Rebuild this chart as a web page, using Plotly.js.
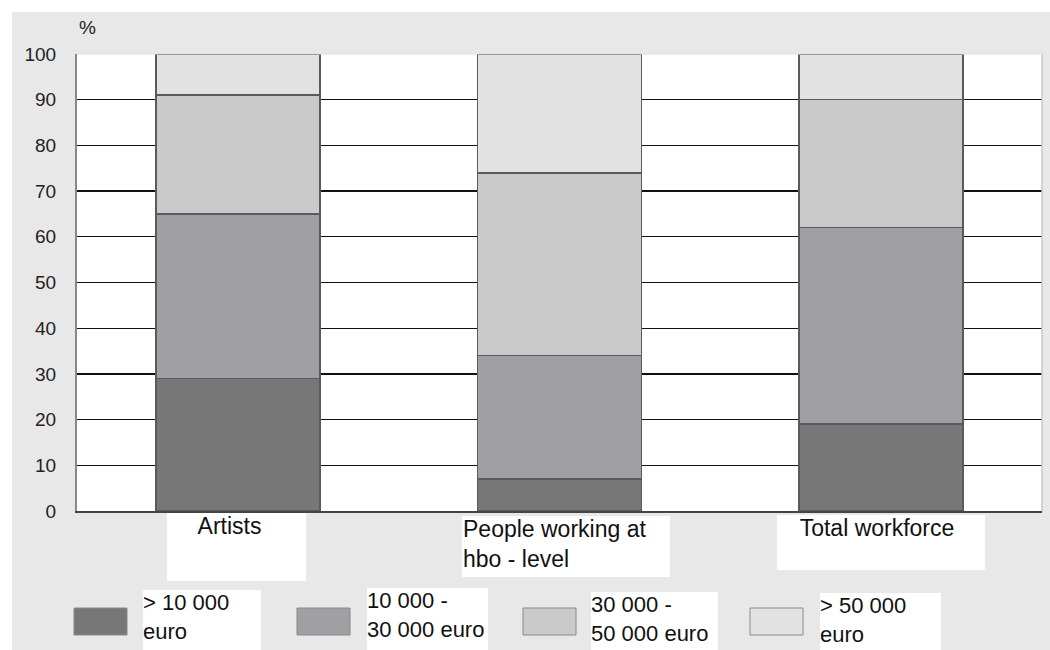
<!DOCTYPE html>
<html>
<head>
<meta charset="utf-8">
<script src="https://cdn.plot.ly/plotly-3.0.1.min.js"></script>
<style>html,body{margin:0;padding:0;background:#fff;}#chart{width:1050px;height:650px;}</style>
</head>
<body>
<div id="chart"></div>
<script>
// ---- data ----
const categories = ["Artists", "People working at hbo - level", "Total workforce"];
const categoryLabels = ["Artists", "People working at<br>hbo - level", "Total workforce"];
const seriesNames = ["> 10 000<br>euro", "10 000 -<br>30 000 euro", "30 000 -<br>50 000 euro", "> 50 000<br>euro"];
const below10k   = [29, 7, 19];
const from10to30 = [36, 27, 43];
const from30to50 = [26, 40, 28];
const above50k   = [9, 26, 10];
const yTicks = [0, 10, 20, 30, 40, 50, 60, 70, 80, 90, 100];

// ---- styling ----
const colors = ["#777777", "#a0a0a4", "#cacaca", "#e2e2e2"];
const seriesValues = [below10k, from10to30, from30to50, above50k];
const W = 1050, H = 650, L = 77, R = 1042, T = 54, B = 511;
const px = x => (x - L) / (R - L);
const py = y => (B - y) / (B - T);
const FONT = "Liberation Sans, Arial, sans-serif";

const traces = seriesValues.map((vals, i) => ({
  type: "bar",
  name: seriesNames[i],
  x: categories,
  y: vals,
  marker: { color: colors[i], line: { color: "#5a5a5a", width: 1.5 } },
  hoverinfo: "y"
}));

const shapes = [
  { type: "rect", xref: "paper", yref: "paper", x0: px(0), x1: px(W), y0: py(12), y1: py(0), fillcolor: "#ffffff", line: { width: 0 }, layer: "below" },
  { type: "rect", xref: "paper", yref: "paper", x0: px(0), x1: px(12), y0: py(H), y1: py(0), fillcolor: "#ffffff", line: { width: 0 }, layer: "below" },
  { type: "line", xref: "paper", yref: "paper", x0: 1, x1: 1, y0: 0, y1: 1, line: { color: "#c8c8c8", width: 1.5 } },
  { type: "line", xref: "paper", yref: "paper", x0: 0, x1: 1, y0: 1, y1: 1, line: { color: "#e0e0e0", width: 1 } }
];

const swatchX = [74, 297, 523, 750];
const legendBoxX = [143, 367, 591, 820];
const legendBoxW = [118, 121, 127, 121];
const legendBoxTop = [590, 588, 592, 593];
swatchX.forEach((x, i) => {
  shapes.push({ type: "rect", xref: "paper", yref: "paper", x0: px(x), x1: px(x + 53), y0: py(635), y1: py(608),
    fillcolor: colors[i], line: { color: "#8a8a8a", width: 1 } });
});

const annotations = [];
annotations.push({ xref: "paper", yref: "paper", x: px(87), y: py(27), text: "%", showarrow: false,
  font: { family: FONT, size: 19, color: "#222" }, xanchor: "center", yanchor: "middle" });

const catBoxW = [139, 208, 208];
const catBoxH = [68, 61, 55];
const catBoxTop = [513, 516, 515];
const catShift = [-1, 6, 0];
const catTextShift = [-7, 0, -4];
const catAlign = ["center", "left", "center"];
categories.forEach((c, i) => {
  annotations.push({ xref: "x", yref: "paper", x: c, y: py(catBoxTop[i]), xshift: catShift[i],
    text: " ", showarrow: false, width: catBoxW[i], height: catBoxH[i], bgcolor: "#ffffff",
    borderpad: 0, borderwidth: 0, xanchor: "center", yanchor: "top", font: { family: FONT, size: 10 } });
  annotations.push({ xref: "x", yref: "paper", x: c, y: py(catBoxTop[i]), xshift: catShift[i] + catTextShift[i],
    text: categoryLabels[i], showarrow: false, align: catAlign[i], valign: "top",
    width: catBoxW[i] - 2, borderpad: 0, borderwidth: 0,
    xanchor: "center", yanchor: "top", font: { family: FONT, size: 23, color: "#111" } });
});

seriesNames.forEach((n, i) => {
  annotations.push({ xref: "paper", yref: "paper", x: px(legendBoxX[i]), y: py(legendBoxTop[i]),
    text: n, showarrow: false, align: "left", valign: "top",
    width: legendBoxW[i], height: H - legendBoxTop[i] + 4, bgcolor: "#ffffff", borderpad: 0, borderwidth: 0,
    xanchor: "left", yanchor: "top", font: { family: FONT, size: 22, color: "#111" } });
});

const layout = {
  width: W, height: H,
  margin: { l: L, r: W - R, t: T, b: H - B, pad: 0 },
  paper_bgcolor: "#e8e8e8",
  plot_bgcolor: "#ffffff",
  barmode: "stack",
  bargap: 0.49,
  showlegend: false,
  font: { family: FONT, color: "#222" },
  xaxis: {
    showticklabels: false, showgrid: false, zeroline: false,
    showline: true, linecolor: "#444", linewidth: 2, ticks: "", fixedrange: true
  },
  yaxis: {
    range: [0, 100], tickvals: yTicks, ticktext: yTicks.map(String),
    showgrid: true, gridcolor: "#111", gridwidth: 1.3, zeroline: false,
    showline: true, linecolor: "#888", linewidth: 2, ticks: "", ticklabelstandoff: 15,
    tickfont: { family: FONT, size: 19, color: "#222" }, fixedrange: true
  },
  shapes: shapes,
  annotations: annotations
};

Plotly.newPlot("chart", traces, layout, { displayModeBar: false, staticPlot: true });
</script>
</body>
</html>
